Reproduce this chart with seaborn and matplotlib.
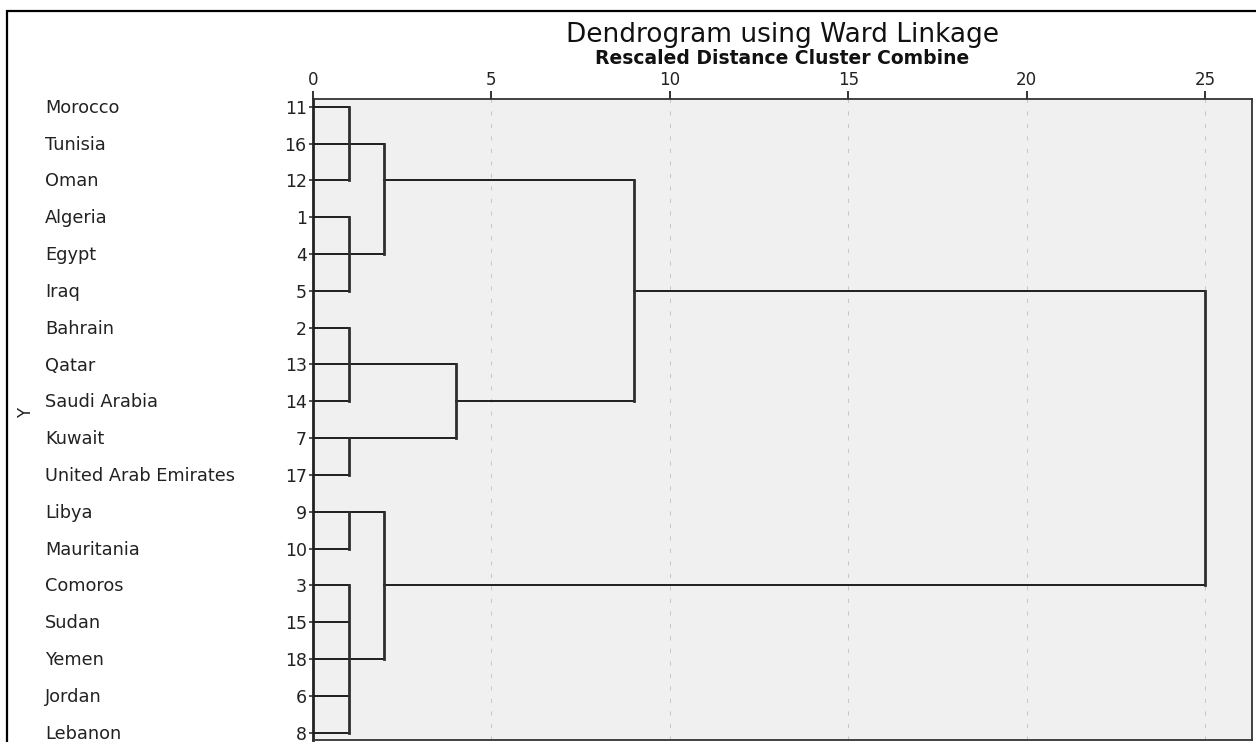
import numpy as np
import pandas as pd
import matplotlib
matplotlib.use("Agg")
import matplotlib.pyplot as plt
import matplotlib.transforms as mtransforms
from matplotlib.patches import Rectangle
import seaborn as sns

# ---------------- data ----------------
countries = ["Morocco", "Tunisia", "Oman", "Algeria", "Egypt", "Iraq",
             "Bahrain", "Qatar", "Saudi Arabia", "Kuwait",
             "United Arab Emirates", "Libya", "Mauritania", "Comoros",
             "Sudan", "Yemen", "Jordan", "Lebanon"]
case_ids = [11, 16, 12, 1, 4, 5, 2, 13, 14, 7, 17, 9, 10, 3, 15, 18, 6, 8]

merge_labels = ["A", "B", "C", "D", "E", "F", "AB", "CD", "EF", "ABCD", "ALL"]
merge_children = [["11", "16", "12"], ["1", "4", "5"], ["2", "13", "14"],
                  ["7", "17"], ["9", "10"], ["3", "15", "18", "6", "8"],
                  ["A", "B"], ["C", "D"], ["E", "F"], ["AB", "CD"],
                  ["ABCD", "EF"]]
merge_dist = [1, 1, 1, 1, 1, 1, 2, 4, 2, 9, 25]

x_ticks = [0, 5, 10, 15, 20, 25]
title = "Dendrogram using Ward Linkage"
subtitle = "Rescaled Distance Cluster Combine"
y_label = "Y"

# ---------------- style ----------------
sns.set_style("white")
plt.rcParams["font.family"] = ["DejaVu Sans"]

W, H = 1256, 742
fig = plt.figure(figsize=(W / 100, H / 100), dpi=100)
fig.patch.set_facecolor("white")

ax_l, ax_r, ax_t, ax_b = 313, 1252, 99, 740
ax = fig.add_axes([ax_l / W, (H - ax_b) / H, (ax_r - ax_l) / W, (ax_b - ax_t) / H])
ax.set_facecolor("#f0f0f0")

# ---------------- build dendrogram segments ----------------
pos = {str(c): (i, 0.0) for i, c in enumerate(case_ids)}
recs = []
seg = 0
for lab, kids, d in zip(merge_labels, merge_children, merge_dist):
    kid_rows = [pos[k][0] for k in kids]
    for k in kids:
        r, d0 = pos[k]
        recs.append(dict(seg=seg, kind="h", x=d0, y=r))
        recs.append(dict(seg=seg, kind="h", x=d, y=r))
        seg += 1
    recs.append(dict(seg=seg, kind="v", x=d, y=min(kid_rows)))
    recs.append(dict(seg=seg, kind="v", x=d, y=max(kid_rows)))
    seg += 1
    pos[lab] = ((min(kid_rows) + max(kid_rows)) // 2, d)
segs = pd.DataFrame(recs)

sns.lineplot(data=segs[segs.kind == "h"], x="x", y="y", units="seg",
             estimator=None, sort=False, color="#1e1e1e", linewidth=1.4,
             solid_capstyle="projecting", legend=False, ax=ax, zorder=3)
sns.lineplot(data=segs[segs.kind == "v"], x="x", y="y", units="seg",
             estimator=None, sort=False, color="#2e2e2e", linewidth=2.0,
             solid_capstyle="projecting", legend=False, ax=ax, zorder=3)

# ---------------- axes ----------------
ax.set_xlim(0, (ax_r - ax_l) / ((1205 - 313) / 25))
ax.set_ylim(17.2, -0.21)
ax.set_xlabel("")
ax.set_ylabel("")

ax.xaxis.tick_top()
ax.set_xticks(x_ticks)
ax.set_xticklabels([str(t) for t in x_ticks])
ax.tick_params(axis="x", which="both", top=True, bottom=False, labeltop=True,
               labelbottom=False, length=6, width=1.4, color="#333333",
               pad=1, labelsize=12, labelcolor="#222222")
ax.set_yticks(range(len(case_ids)))
ax.set_yticklabels([str(c) for c in case_ids])
ax.tick_params(axis="y", left=True, length=3, width=1.2, color="#333333",
               pad=1.5, labelsize=12.5, labelcolor="#222222")

ax.grid(axis="x", color="#c8c8c8", linestyle=(0, (4, 8)), linewidth=0.75)
ax.grid(axis="y", visible=False)
ax.set_axisbelow(True)

for side, sp in ax.spines.items():
    sp.set_visible(True)
    sp.set_color("#333333")
    sp.set_linewidth(1.3)
ax.spines["left"].set_linewidth(2.0)
ax.spines["left"].set_color("#222222")

# country names
tr = mtransforms.blended_transform_factory(fig.transFigure, ax.transData)
for i, name in enumerate(countries):
    ax.text(45 / W, i + 0.03, name, transform=tr, ha="left", va="center",
            fontsize=12.8, color="#222222", clip_on=False)

# titles
cx = ((ax_l + ax_r) / 2) / W
fig.text(cx, 1 - 35 / H, title, ha="center", va="center", fontsize=19,
         color="#111111")
fig.text(cx, 1 - 59 / H, subtitle, ha="center", va="center", fontsize=13.5,
         fontweight="bold", color="#111111")
fig.text(26 / W, 1 - 413 / H, y_label, ha="center", va="center",
         fontsize=12, rotation=90, color="#222222")

# outer frame
fig.add_artist(Rectangle((7 / W, -0.2), 1.5, 1.2 - 11 / H,
                         transform=fig.transFigure, fill=False,
                         edgecolor="black", linewidth=1.6, clip_on=False))

fig.savefig("out.png", dpi=100)
